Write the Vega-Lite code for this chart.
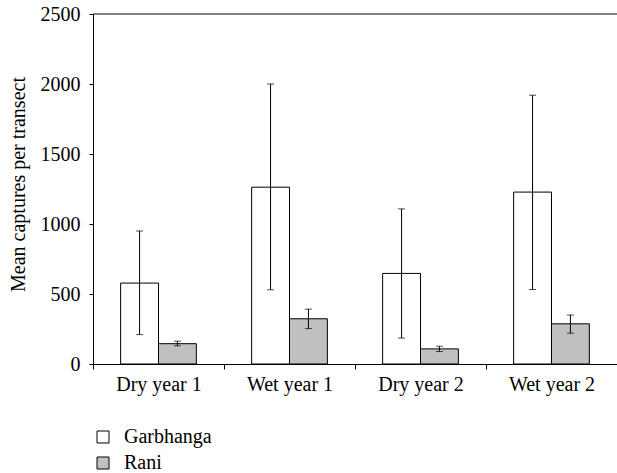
{
  "$schema": "https://vega.github.io/schema/vega-lite/v6.json",
  "width": 524,
  "height": 350,
  "autosize": "none",
  "padding": {"left": 93, "top": 14, "right": 0, "bottom": 109},
  "background": "white",
  "config": {
    "font": "Liberation Serif",
    "view": {"stroke": null},
    "axis": {
      "domainColor": "black",
      "tickColor": "black",
      "labelColor": "black",
      "titleColor": "black",
      "grid": false,
      "labelFont": "Liberation Serif",
      "titleFont": "Liberation Serif",
      "labelFontSize": 20,
      "titleFontSize": 20,
      "titleFontWeight": "normal"
    }
  },
  "data": {
    "values": [
      {"period": "Dry year 1", "site": "Garbhanga", "mean": 578, "lo": 210, "hi": 950},
      {"period": "Dry year 1", "site": "Rani", "mean": 145, "lo": 130, "hi": 163},
      {"period": "Wet year 1", "site": "Garbhanga", "mean": 1263, "lo": 530, "hi": 2000},
      {"period": "Wet year 1", "site": "Rani", "mean": 323, "lo": 253, "hi": 392},
      {"period": "Dry year 2", "site": "Garbhanga", "mean": 647, "lo": 185, "hi": 1108},
      {"period": "Dry year 2", "site": "Rani", "mean": 108, "lo": 89, "hi": 127},
      {"period": "Wet year 2", "site": "Garbhanga", "mean": 1228, "lo": 532, "hi": 1920},
      {"period": "Wet year 2", "site": "Rani", "mean": 287, "lo": 220, "hi": 350}
    ]
  },
  "layer": [
    {
      "mark": {"type": "bar", "stroke": "black", "strokeWidth": 1},
      "encoding": {
        "x": {
          "field": "period", "type": "nominal",
          "sort": ["Dry year 1", "Wet year 1", "Dry year 2", "Wet year 2"],
          "scale": {"paddingInner": 0, "paddingOuter": 0},
          "axis": {"title": null, "labelAngle": 0, "tickBand": "extent", "tickSize": 5, "labelPadding": 5}
        },
        "xOffset": {
          "field": "site", "type": "nominal", "sort": ["Garbhanga", "Rani"],
          "scale": {"paddingInner": 0, "paddingOuter": 0.73}
        },
        "y": {
          "field": "mean", "type": "quantitative",
          "scale": {"domain": [0, 2500], "nice": false},
          "axis": {"title": "Mean captures per transect", "format": "d", "values": [0, 500, 1000, 1500, 2000, 2500], "tickSize": 4, "labelPadding": 9, "titlePadding": 12, "titleY": 170}
        },
        "fill": {
          "field": "site", "type": "nominal",
          "scale": {"domain": ["Garbhanga", "Rani"], "range": ["white", "#c0c0c0"]},
          "legend": {
            "orient": "none", "legendX": 0, "legendY": 413, "title": null,
            "direction": "vertical", "symbolType": "square", "symbolSize": 144,
            "symbolStrokeColor": "black", "symbolStrokeWidth": 1,
            "labelFontSize": 20, "labelFont": "Liberation Serif", "labelColor": "black",
            "rowPadding": 6, "labelOffset": 11, "padding": 0
          }
        }
      }
    },
    {
      "mark": {"type": "rule", "color": "black", "strokeWidth": 1},
      "encoding": {
        "x": {"field": "period", "type": "nominal", "sort": ["Dry year 1", "Wet year 1", "Dry year 2", "Wet year 2"]},
        "xOffset": {"field": "site", "type": "nominal", "sort": ["Garbhanga", "Rani"]},
        "y": {"field": "lo", "type": "quantitative"},
        "y2": {"field": "hi"}
      }
    },
    {
      "mark": {"type": "tick", "color": "black", "size": 7, "thickness": 1},
      "encoding": {
        "x": {"field": "period", "type": "nominal", "sort": ["Dry year 1", "Wet year 1", "Dry year 2", "Wet year 2"]},
        "xOffset": {"field": "site", "type": "nominal", "sort": ["Garbhanga", "Rani"]},
        "y": {"field": "lo", "type": "quantitative"}
      }
    },
    {
      "mark": {"type": "tick", "color": "black", "size": 7, "thickness": 1},
      "encoding": {
        "x": {"field": "period", "type": "nominal", "sort": ["Dry year 1", "Wet year 1", "Dry year 2", "Wet year 2"]},
        "xOffset": {"field": "site", "type": "nominal", "sort": ["Garbhanga", "Rani"]},
        "y": {"field": "hi", "type": "quantitative"}
      }
    },
    {
      "data": {"values": [{"top": 2500}]},
      "mark": {"type": "rule", "color": "black", "strokeWidth": 1},
      "encoding": {"y": {"field": "top", "type": "quantitative"}}
    }
  ]
}
